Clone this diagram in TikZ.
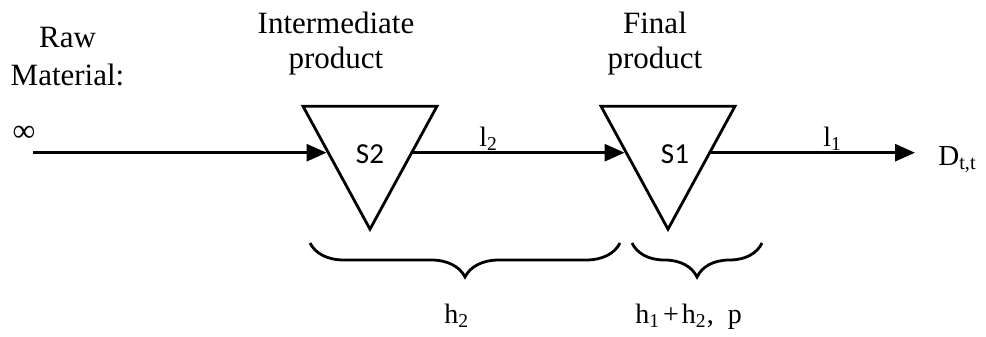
\documentclass[tikz,border=0pt]{standalone}
\usepackage{fontspec}
\setmainfont{Liberation Serif}
\newfontfamily\stockfont{Carlito}
\usepackage{tikz}
\usetikzlibrary{positioning,arrows.meta,calc,shapes.geometric,decorations.pathreplacing}

\begin{document}
\begin{tikzpicture}[x=0.5pt, y=-0.5pt, line width=1.4pt,
  font=\fontsize{15.5}{17.5}\selectfont,
  stock/.style={draw, isosceles triangle, shape border rotate=-90, isosceles triangle stretches,
    minimum width=67pt, minimum height=61.5pt, inner sep=0pt},
  stocktext/.style={font=\stockfont\fontsize{14.5}{16}\selectfont, yshift=-4pt},
  flow/.style={-{Triangle[length=10pt, width=8.5pt]}},
  cost/.style={decorate, decoration={brace, amplitude=17pt}},
  small/.style={font=\fontsize{14}{16}\selectfont, inner sep=0pt}]
\useasboundingbox (0,0) rectangle (986,337);
% titles
\node[align=center, font=\fontsize{15.5}{19}\selectfont] (raw) at (67.5,56.5) {Raw\\Material:};
\node[align=center] (inter) at (336,43.5) {Intermediate\\product};
\node[align=center] (final) at (655,43.5) {Final\\product};
% stock points
\node[stock, label={[stocktext]center:S2}] (s2) at (370,146) {};
\node[stock, label={[stocktext, xshift=3.5pt]center:S1}] (s1) at (668,146) {};
\coordinate (s2in) at ($(s2.right corner)!0.374!(s2.apex)$);
\coordinate (s2out) at ($(s2.left corner)!0.374!(s2.apex)$);
\coordinate (s1in) at ($(s1.right corner)!0.374!(s1.apex)$);
\coordinate (s1out) at ($(s1.left corner)!0.374!(s1.apex)$);
% flows
\node[inner sep=0pt, font=\fontsize{16}{18}\selectfont] (inf) at (24,133.5) {∞};
\coordinate (src) at (33,153);
\node[small, font=\fontsize{14.5}{16}\selectfont, anchor=base west, inner xsep=11pt] (dem) at (915,165) {D\textsubscript{t,t}};
\draw[flow] (src |- s2in) -- (s2in);
\draw[flow] (s2out) -- (s1in);
\draw[flow] (s1out) -- (s1out -| dem.west);
\node[small, anchor=base west] (l2) at (478,146) {l\textsubscript{2}};
\node[small, anchor=base west] (l1) at (822,146) {l\textsubscript{1}};
% holding costs
\draw[cost] (620,243) -- (310,243);
\draw[cost] (762,243) -- (632,243);
\node[small, anchor=base west] (h2) at (443,323) {h\textsubscript{2}};
\node[small, anchor=base west] (h12) at (634,323) {h\textsubscript{1}\hspace{1.5pt}+\hspace{1.5pt}h\textsubscript{2},\hspace{7pt}p};
\end{tikzpicture}
\end{document}
